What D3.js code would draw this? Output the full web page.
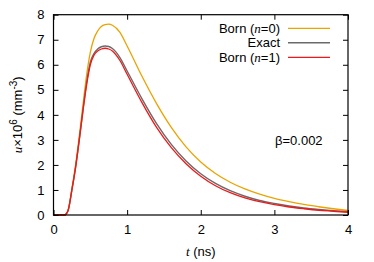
<!DOCTYPE html>
<html>
<head>
<meta charset="utf-8">
<script src="https://cdnjs.cloudflare.com/ajax/libs/d3/7.8.5/d3.min.js"></script>
<style>
  body { margin: 0; background: #fff; }
  svg text { font-family: "Liberation Sans", Arial, sans-serif; font-size: 13px; fill: #000; }
</style>
</head>
<body>
<svg id="chart"></svg>
<script>
// time axis (ns)
var times = [0, 0.1, 0.15, 0.175, 0.2, 0.25, 0.3, 0.35, 0.4, 0.45, 0.5, 0.55, 0.6, 0.65, 0.7, 0.75, 0.8, 0.9, 1.0, 1.2, 1.4, 1.6, 1.8, 2.0, 2.2, 2.4, 2.6, 2.8, 3.0, 3.2, 3.4, 3.6, 3.8, 4.0];
// u x 10^6 (mm^-3)
var bornN0 = [0, 0, 0, 0.05, 0.2, 1.05, 2.0, 3.15, 4.4, 5.6, 6.5, 7.05, 7.35, 7.53, 7.6, 7.62, 7.58, 7.3, 6.75, 5.55, 4.45, 3.5, 2.72, 2.12, 1.66, 1.31, 1.04, 0.83, 0.66, 0.53, 0.42, 0.33, 0.25, 0.18];
var exact  = [0, 0, 0, 0.05, 0.2, 1.0, 1.9, 3.0, 4.2, 5.3, 6.1, 6.45, 6.63, 6.72, 6.75, 6.73, 6.65, 6.3, 5.75, 4.65, 3.65, 2.82, 2.16, 1.65, 1.26, 0.97, 0.75, 0.58, 0.46, 0.36, 0.28, 0.22, 0.17, 0.13];
var bornN1 = [0, 0, 0, 0.05, 0.2, 1.0, 1.9, 3.0, 4.15, 5.2, 6.0, 6.38, 6.55, 6.63, 6.66, 6.63, 6.55, 6.18, 5.62, 4.5, 3.5, 2.69, 2.05, 1.55, 1.17, 0.89, 0.68, 0.53, 0.41, 0.32, 0.25, 0.19, 0.15, 0.11];

var xTicks = [0, 1, 2, 3, 4];
var yTicks = [0, 1, 2, 3, 4, 5, 6, 7, 8];

var series = [
  {name: "n0", label: ["Born (", "n", "=0)"], values: bornN0, color: "#eba300", width: 1.3},
  {name: "exact", label: ["Exact"], values: exact, color: "#6a6a6a", width: 1.4},
  {name: "n1", label: ["Born (", "n", "=1)"], values: bornN1, color: "#f01818", width: 1.3}
];

var svgWidth = 374, svgHeight = 262;
var margin = {top: 14.7, right: 26, bottom: 47, left: 53.5};

var svg = d3.select("#chart")
    .attr("width", svgWidth)
    .attr("height", svgHeight);

var x = d3.scaleLinear().domain([0, 4]).range([margin.left, svgWidth - margin.right]);
var y = d3.scaleLinear().domain([0, 8]).range([svgHeight - margin.bottom, margin.top]);

var tickLen = 5;

// curves (drawn first so the frame sits on top)
var line = d3.line()
    .x(function(d, i) { return x(times[i]); })
    .y(function(d) { return y(d); })
    .curve(d3.curveMonotoneX);

series.forEach(function(s) {
  svg.append("path")
    .datum(s.values)
    .attr("fill", "none")
    .attr("stroke", s.color)
    .attr("stroke-width", s.width)
    .attr("stroke-linejoin", "round")
    .attr("d", line);
});

// axes: bottom/left with labels, top/right mirrored ticks, all pointing inward
svg.append("g")
    .attr("transform", "translate(0," + y(0) + ")")
    .call(d3.axisBottom(x).tickValues(xTicks).tickFormat(d3.format("d")).tickSizeInner(-tickLen).tickSizeOuter(0).tickPadding(10));
svg.append("g")
    .attr("transform", "translate(0," + y(8) + ")")
    .call(d3.axisTop(x).tickValues(xTicks).tickSizeInner(-tickLen).tickSizeOuter(0).tickFormat(""));
svg.append("g")
    .attr("transform", "translate(" + x(0) + ",0)")
    .call(d3.axisLeft(y).tickValues(yTicks).tickFormat(d3.format("d")).tickSizeInner(-tickLen).tickSizeOuter(0).tickPadding(9));
svg.append("g")
    .attr("transform", "translate(" + x(4) + ",0)")
    .call(d3.axisRight(y).tickValues(yTicks).tickSizeInner(-tickLen).tickSizeOuter(0).tickFormat(""));

svg.selectAll(".domain").remove();
svg.selectAll(".tick line").attr("stroke", "#000").attr("stroke-width", 1);
svg.selectAll(".tick text")
    .style("font-family", "'Liberation Sans', Arial, sans-serif")
    .style("font-size", "13px");

// frame
svg.append("rect")
    .attr("x", x(0))
    .attr("y", y(8))
    .attr("width", x(4) - x(0))
    .attr("height", y(0) - y(8))
    .attr("fill", "none")
    .attr("stroke", "#000")
    .attr("stroke-width", 1.2);

// legend
var legX = 280, legLine0 = 288, legLine1 = 330;
series.forEach(function(s, i) {
  var cy = 28.3 + i * 14.5;
  var t = svg.append("text")
    .attr("x", legX)
    .attr("y", cy + 4.5)
    .attr("text-anchor", "end");
  s.label.forEach(function(part, j) {
    t.append("tspan")
      .style("font-style", j === 1 ? "italic" : "normal")
      .style("font-family", j === 1 ? "'Liberation Serif', 'Times New Roman', serif" : null)
      .text(part);
  });
  svg.append("line")
    .attr("x1", legLine0).attr("x2", legLine1)
    .attr("y1", cy).attr("y2", cy)
    .attr("stroke", s.color)
    .attr("stroke-width", s.width);
});

// annotation
svg.append("text")
    .attr("x", 275)
    .attr("y", 144.5)
    .text("\u03b2=0.002");

// x label
var xl = svg.append("text")
    .attr("x", x(2))
    .attr("y", 255.5)
    .attr("text-anchor", "middle");
xl.append("tspan").style("font-style", "italic").style("font-family", "'Liberation Serif', serif").text("t");
xl.append("tspan").text(" (ns)");

// y label
var yl = svg.append("text")
    .attr("transform", "translate(22," + y(4) + ") rotate(-90)")
    .attr("text-anchor", "middle");
yl.append("tspan").style("font-style", "italic").style("font-family", "'Liberation Serif', serif").text("u");
yl.append("tspan").text("\u00d710");
yl.append("tspan").attr("dy", -5).style("font-size", "10px").text("6");
yl.append("tspan").attr("dy", 5).text(" (mm");
yl.append("tspan").attr("dy", -5).style("font-size", "10px").text("-3");
yl.append("tspan").attr("dy", 5).text(")");
</script>
</body>
</html>
